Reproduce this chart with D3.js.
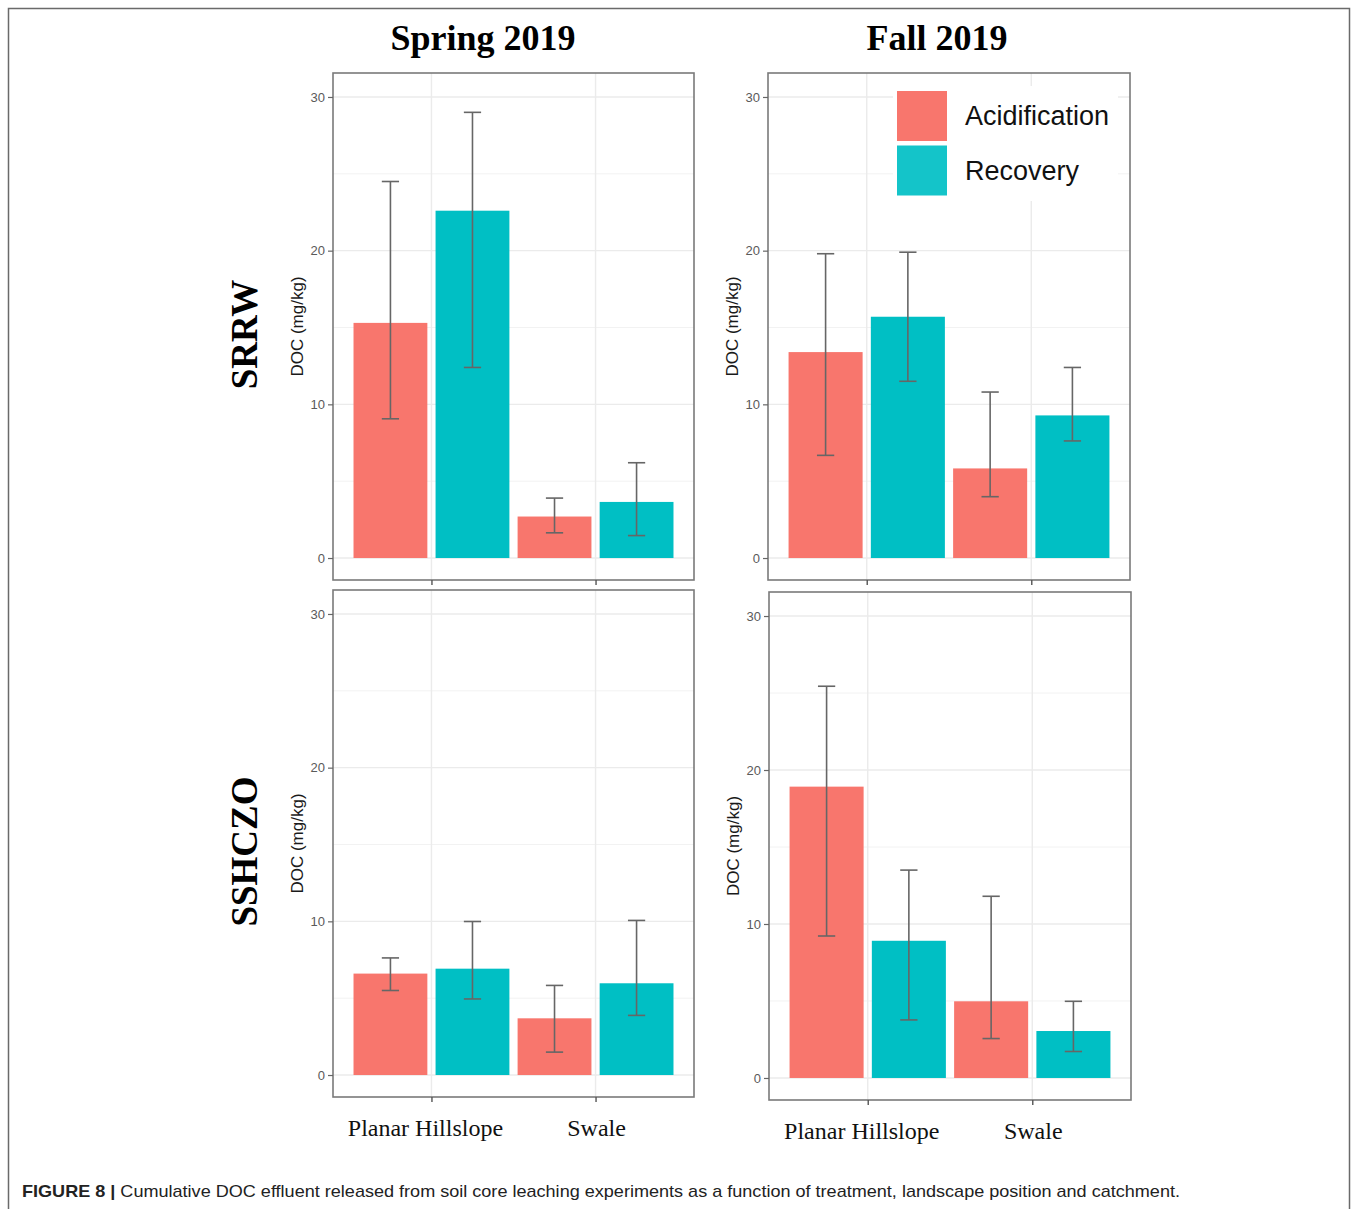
<!DOCTYPE html>
<html>
<head>
<meta charset="utf-8">
<script src="https://cdn.jsdelivr.net/npm/d3@7"></script>
<style>
  html, body { margin: 0; padding: 0; background: #fff; }
  svg { display: block; }
</style>
</head>
<body>
<svg id="chart" width="1358" height="1209"></svg>
<script>
// ---------------- DATA ----------------
const seasons = ["Spring 2019", "Fall 2019"];
const catchments = ["SRRW", "SSHCZO"];
const positions = ["Planar Hillslope", "Swale"];
const treatments = ["Acidification", "Recovery"];
const treatmentColors = ["#F8766D", "#00BFC4"];
const yTicks = [0, 10, 20, 30];
const yTitle = "DOC (mg/kg)";
const captionBold = "FIGURE 8 |";
const captionText = " Cumulative DOC effluent released from soil core leaching experiments as a function of treatment, landscape position and catchment.";

// order of values: Planar-Acidification, Planar-Recovery, Swale-Acidification, Swale-Recovery
const springSRRWMean = [15.3, 22.6, 2.7, 3.65];
const springSRRWLow  = [9.06, 12.4, 1.64, 1.46];
const springSRRWHigh = [24.5, 29.0, 3.9, 6.2];

const fallSRRWMean = [13.4, 15.7, 5.83, 9.28];
const fallSRRWLow  = [6.68, 11.5, 3.99, 7.62];
const fallSRRWHigh = [19.8, 19.9, 10.8, 12.4];

const springSSHCZOMean = [6.6, 6.92, 3.69, 5.97];
const springSSHCZOLow  = [5.5, 4.95, 1.49, 3.88];
const springSSHCZOHigh = [7.62, 9.99, 5.83, 10.06];

const fallSSHCZOMean = [18.92, 8.91, 4.98, 3.05];
const fallSSHCZOLow  = [9.22, 3.77, 2.56, 1.72];
const fallSSHCZOHigh = [25.44, 13.5, 11.8, 4.98];

// ---------------- LAYOUT ----------------
const panelData = [
  {season: 0, catchment: 0, mean: springSRRWMean, low: springSRRWLow, high: springSRRWHigh},
  {season: 1, catchment: 0, mean: fallSRRWMean, low: fallSRRWLow, high: fallSRRWHigh},
  {season: 0, catchment: 1, mean: springSSHCZOMean, low: springSSHCZOLow, high: springSSHCZOHigh},
  {season: 1, catchment: 1, mean: fallSSHCZOMean, low: fallSSHCZOLow, high: fallSSHCZOHigh}
];
const panelBoxes = [
  {x0: 333, x1: 694, y0: 73, y1: 580},
  {x0: 768, x1: 1130, y0: 73, y1: 580},
  {x0: 333, x1: 694, y0: 590, y1: 1097},
  {x0: 769, x1: 1131, y0: 592, y1: 1100}
];
const yDomain = [-1.43, 31.56];

const svg = d3.select("#chart");
const sans = "'Liberation Sans', Arial, sans-serif";
const serif = "'Liberation Serif', 'Times New Roman', serif";

// outer frame
svg.append("rect")
  .attr("x", 8.5).attr("y", 8.5).attr("width", 1341).attr("height", 1230)
  .attr("fill", "none").attr("stroke", "#6a6a6a").attr("stroke-width", 1.5);

panelData.forEach((pd, i) => {
  const box = panelBoxes[i];
  const g = svg.append("g");
  const y = d3.scaleLinear().domain(yDomain).range([box.y1, box.y0]);
  const x = d3.scalePoint().domain(positions).range([box.x0, box.x1]).padding(0.6);
  const step = x.step();
  const xt = d3.scaleBand().domain(treatments).range([-step / 2, step / 2])
    .paddingInner(0.1).paddingOuter(0.05);

  // panel background
  g.append("rect").attr("x", box.x0).attr("y", box.y0)
    .attr("width", box.x1 - box.x0).attr("height", box.y1 - box.y0)
    .attr("fill", "#fff");

  // minor horizontal grid
  const minor = d3.pairs(yTicks).map(([a, b]) => (a + b) / 2);
  g.selectAll(".minor").data(minor).join("line")
    .attr("x1", box.x0).attr("x2", box.x1)
    .attr("y1", d => y(d)).attr("y2", d => y(d))
    .attr("stroke", "#F2F2F2").attr("stroke-width", 1);
  // major horizontal grid
  g.selectAll(".major").data(yTicks).join("line")
    .attr("x1", box.x0).attr("x2", box.x1)
    .attr("y1", d => y(d)).attr("y2", d => y(d))
    .attr("stroke", "#EBEBEB").attr("stroke-width", 1.4);
  // vertical grid
  g.selectAll(".vgrid").data(positions).join("line")
    .attr("x1", d => x(d)).attr("x2", d => x(d))
    .attr("y1", box.y0).attr("y2", box.y1)
    .attr("stroke", "#EBEBEB").attr("stroke-width", 1.4);

  // legend (first-row right panel)
  if (pd.season === 1 && pd.catchment === 0) {
    const lg = g.append("g");
    lg.append("rect").attr("x", 893).attr("y", 86).attr("width", 225).attr("height", 115).attr("fill", "#fff");
    treatments.forEach((t, k) => {
      lg.append("rect").attr("x", 897).attr("y", 91 + k * 54.5).attr("width", 50).attr("height", 50)
        .attr("fill", treatmentColors[k]).attr("opacity", k === 1 ? 0.92 : 1);
      lg.append("text").attr("x", 965).attr("y", 116 + k * 54.5)
        .attr("dominant-baseline", "central")
        .attr("font-family", sans).attr("font-size", 27).attr("fill", "#111")
        .text(t);
    });
  }

  // bars
  const rows = [];
  positions.forEach((p, pi) => treatments.forEach((t, ti) => {
    const k = pi * 2 + ti;
    rows.push({p, t, ti, mean: pd.mean[k], low: pd.low[k], high: pd.high[k]});
  }));
  g.selectAll(".bar").data(rows).join("rect")
    .attr("x", d => x(d.p) + xt(d.t))
    .attr("width", xt.bandwidth())
    .attr("y", d => y(d.mean))
    .attr("height", d => y(0) - y(d.mean))
    .attr("fill", d => treatmentColors[d.ti]);

  // error bars
  const capW = step * 0.105;
  const eb = g.selectAll(".eb").data(rows).join("g")
    .attr("stroke", "#666").attr("stroke-width", 1.6).attr("fill", "none");
  eb.append("line")
    .attr("x1", d => x(d.p) + xt(d.t) + xt.bandwidth() / 2)
    .attr("x2", d => x(d.p) + xt(d.t) + xt.bandwidth() / 2)
    .attr("y1", d => y(d.low)).attr("y2", d => y(d.high));
  eb.append("line")
    .attr("x1", d => x(d.p) + xt(d.t) + xt.bandwidth() / 2 - capW / 2)
    .attr("x2", d => x(d.p) + xt(d.t) + xt.bandwidth() / 2 + capW / 2)
    .attr("y1", d => y(d.high)).attr("y2", d => y(d.high));
  eb.append("line")
    .attr("x1", d => x(d.p) + xt(d.t) + xt.bandwidth() / 2 - capW / 2)
    .attr("x2", d => x(d.p) + xt(d.t) + xt.bandwidth() / 2 + capW / 2)
    .attr("y1", d => y(d.low)).attr("y2", d => y(d.low));

  // panel border
  g.append("rect").attr("x", box.x0).attr("y", box.y0)
    .attr("width", box.x1 - box.x0).attr("height", box.y1 - box.y0)
    .attr("fill", "none").attr("stroke", "#7a7a7a").attr("stroke-width", 1.6);

  // y axis
  const ya = g.append("g").attr("transform", `translate(${box.x0},0)`)
    .call(d3.axisLeft(y).tickValues(yTicks).tickSize(5).tickPadding(3));
  ya.select(".domain").remove();
  ya.selectAll("line").attr("stroke", "#666").attr("stroke-width", 1.2);
  ya.selectAll("text").attr("font-family", sans).attr("font-size", 13).attr("fill", "#5a5a5a");

  // x axis ticks
  const xa = g.append("g").attr("transform", `translate(0,${box.y1})`)
    .call(d3.axisBottom(x).tickSize(5).tickFormat(""));
  xa.select(".domain").remove();
  xa.selectAll("line").attr("stroke", "#555").attr("stroke-width", 1.4);

  // x labels on bottom row
  if (pd.catchment === 1) {
    g.selectAll(".xlab").data(positions).join("text")
      .attr("x", (d, k) => x(d) + (k === 0 ? -6 : 1))
      .attr("y", box.y1 + 39)
      .attr("text-anchor", "middle")
      .attr("font-family", serif).attr("font-size", 24).attr("fill", "#111")
      .text(d => d);
  }

  // y title
  const cy = (box.y0 + box.y1) / 2;
  g.append("text")
    .attr("transform", `translate(${box.x0 - 30},${cy}) rotate(-90)`)
    .attr("text-anchor", "middle")
    .attr("font-family", sans).attr("font-size", 17).attr("fill", "#1a1a1a")
    .text(yTitle);

  // season titles
  if (pd.catchment === 0) {
    g.append("text")
      .attr("x", pd.season === 0 ? 483 : 937).attr("y", 50)
      .attr("text-anchor", "middle")
      .attr("font-family", serif).attr("font-weight", "bold").attr("font-size", 36).attr("fill", "#000")
      .text(seasons[pd.season]);
  }
  // catchment labels
  if (pd.season === 0) {
    g.append("text")
      .attr("transform", `translate(257,${cy + 8}) rotate(-90)`)
      .attr("text-anchor", "middle")
      .attr("font-family", serif).attr("font-weight", "bold").attr("font-size", 37).attr("fill", "#000")
      .text(catchments[pd.catchment]);
  }
});

// caption
const cap = svg.append("text").attr("x", 22).attr("y", 1197)
  .attr("font-family", sans).attr("font-size", 17).attr("fill", "#222")
  .attr("textLength", 1158).attr("lengthAdjust", "spacingAndGlyphs");
cap.append("tspan").attr("font-weight", "bold").text(captionBold);
cap.append("tspan").text(captionText);
</script>
</body>
</html>
